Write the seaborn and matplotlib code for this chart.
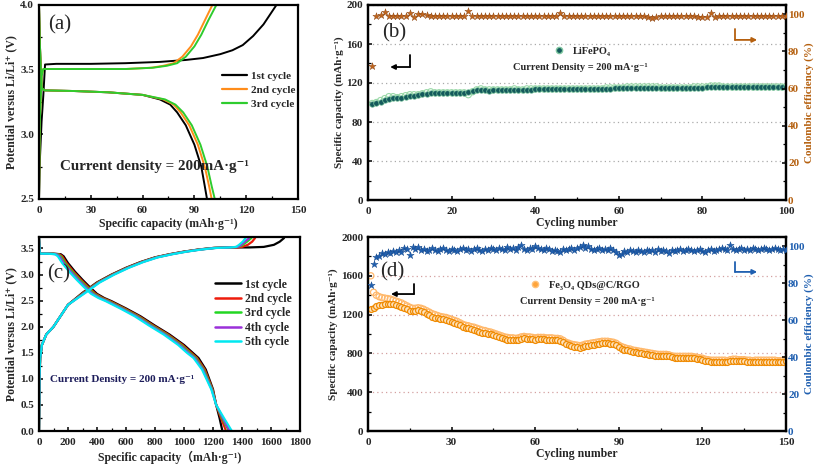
import numpy as np
import pandas as pd
import seaborn as sns
import matplotlib.pyplot as plt
from matplotlib.lines import Line2D
from matplotlib.ticker import MultipleLocator

# ---------------- panel (a): LiFePO4 charge/discharge ----------------
a_labels = ['1st cycle', '2nd cycle', '3rd cycle']
a_colors = ['#000000', '#ff8c1a', '#2ecc2e']
a_chg_cap = [
    [0, 0.5, 1.5, 2.5, 3.5, 10, 30, 50, 70, 85, 95, 105, 112, 118, 124, 130, 134, 137.5],
    [0, 0.5, 1.5, 2.5, 10, 30, 50, 65, 72, 78, 83, 88, 92, 96, 100.4],
    [0, 0.5, 1.5, 2.5, 10, 30, 50, 66, 74, 80, 85, 90, 94, 98, 102.7],
]
a_chg_v = [
    [2.5, 2.8, 3.1, 3.3, 3.54, 3.545, 3.545, 3.55, 3.56, 3.575, 3.59, 3.62, 3.65, 3.69, 3.76, 3.85, 3.93, 4.0],
    [2.5, 3.1, 3.45, 3.505, 3.505, 3.505, 3.505, 3.515, 3.53, 3.55, 3.6, 3.68, 3.77, 3.88, 4.0],
    [2.5, 3.1, 3.45, 3.505, 3.505, 3.505, 3.505, 3.515, 3.53, 3.55, 3.6, 3.68, 3.77, 3.88, 4.0],
]
a_dis_cap = [
    [0, 0.5, 1.5, 3, 20, 40, 60, 70, 76, 80, 85, 90, 94, 96, 97.3],
    [0, 0.5, 1.5, 3, 20, 40, 60, 72, 78, 82, 87, 92, 96, 98.5, 100],
    [0, 0.5, 1.5, 3, 20, 40, 60, 73, 79, 83.5, 88.5, 93.5, 97.5, 100, 101.8],
]
a_dis_v = [4.0, 3.7, 3.36, 3.34, 3.335, 3.325, 3.305, 3.27, 3.23, 3.17, 3.07, 2.92, 2.75, 2.6, 2.5]

# ---------------- panel (b): LiFePO4 cycling ----------------
b_cycles = list(range(1, 101))
b_cap_chg = [98, 99, 101, 103, 104, 105, 105, 105, 106, 107,
             107, 108, 109, 109, 110, 110, 110, 110, 110, 110,
             110, 110, 110, 111, 112, 113, 113, 113, 112, 113,
             113, 113, 113, 113, 113, 113, 113, 113, 113, 114,
             114, 114, 114, 114, 114, 114, 114, 114, 114, 114,
             114, 114, 114, 114, 114, 114, 114, 114, 115, 115,
             115, 115, 115, 115, 115, 115, 115, 115, 115, 115,
             115, 115, 115, 115, 115, 115, 115, 115, 115, 115,
             116, 116, 116, 116, 116, 116, 116, 116, 116, 116,
             116, 116, 116, 116, 116, 116, 116, 116, 116, 116]
b_cap_dis = [99, 100, 102, 104, 106, 106, 105, 106, 107, 108,
             108, 108, 109, 110, 111, 110, 110, 110, 110, 110,
             110, 110, 110, 108, 111, 113, 114, 113, 113, 113,
             113, 113, 113, 113, 114, 113, 113, 114, 114, 114,
             114, 114, 114, 114, 114, 114, 114, 114, 114, 114,
             114, 114, 114, 114, 114, 114, 115, 115, 115, 115,
             115, 116, 116, 116, 116, 116, 116, 116, 116, 115,
             115, 115, 115, 115, 115, 115, 115, 116, 116, 116,
             116, 117, 117, 117, 116, 116, 116, 116, 116, 116,
             116, 116, 116, 116, 116, 116, 116, 116, 116, 116]
b_ce = [72, 99, 99.5, 101, 99, 99, 99, 99, 99, 100.5,
        98.5, 100, 100, 99.5, 99.3, 99.3, 99.3, 99.3, 99.3, 99.3,
        99.3, 99.3, 99.3, 102, 99.3, 99.3, 99.3, 99.3, 99.3, 99.3,
        99.3, 99.3, 99.3, 99.3, 99.3, 99.3, 99.3, 99.3, 99.3, 99.3,
        99.3, 99.3, 99.3, 99.3, 99.3, 100.5, 99.3, 99.3, 99.3, 99.3,
        99.3, 99.3, 99.3, 99.3, 99.3, 99.3, 99.3, 99.3, 99.3, 99.3,
        99.3, 99.3, 99.3, 99.3, 99.3, 99.3, 98.5, 98, 98.5, 99.3,
        99.3, 99.3, 99.3, 99.3, 99.3, 99.3, 99.3, 99.3, 98.8, 98.8,
        98.8, 100.5, 98.8, 99.3, 99.3, 99.3, 99.3, 99.3, 99.3, 99.3,
        99.3, 99.3, 99.3, 99.3, 99.3, 99.3, 99.3, 99.3, 99.3, 99.3]

# ---------------- panel (c): Fe3O4 QDs@C/RGO charge/discharge ----------------
c_labels = ['1st cycle', '2nd cycle', '3rd cycle', '4th cycle', '5th cycle']
c_colors = ['#000000', '#ee1c0c', '#22d622', '#9b30d9', '#00e8f0']
c_dis_v = [3.7, 3.4, 3.4, 3.4, 3.39, 3.35, 3.22, 3.05, 2.9, 2.76, 2.63, 2.55, 2.49,
           2.35, 2.2, 2.02, 1.85, 1.65, 1.5, 1.4, 1.18, 0.8, 0.5, 0.25, 0.0]
c_dis_cap = [
    [0, 5, 20, 100, 150, 170, 200, 250, 300, 350, 400, 450, 500, 600, 700, 800, 900, 1000, 1060, 1100, 1150, 1200, 1222, 1245, 1265],
    [0, 5, 20, 90, 140, 160, 190, 240, 290, 340, 390, 440, 490, 590, 690, 790, 890, 990, 1050, 1090, 1143, 1197, 1222, 1255, 1290],
    [0, 5, 20, 80, 130, 150, 180, 230, 280, 330, 380, 430, 480, 580, 680, 780, 880, 980, 1040, 1082, 1136, 1194, 1222, 1262, 1310],
    [0, 5, 20, 70, 120, 140, 170, 220, 270, 320, 370, 420, 470, 570, 670, 770, 870, 970, 1030, 1074, 1130, 1191, 1222, 1268, 1315],
    [0, 5, 20, 60, 110, 130, 160, 210, 260, 310, 360, 410, 460, 560, 660, 760, 860, 960, 1020, 1066, 1124, 1188, 1222, 1275, 1330],
]
c_chg_cap = [
    [0, 3, 8, 20, 50, 100, 200, 300, 400, 500, 600, 700, 800, 900, 1000, 1100, 1200, 1300, 1370, 1450, 1550, 1620, 1660, 1690],
    [0, 3, 8, 20, 50, 100, 200, 305, 405, 505, 605, 705, 805, 905, 1005, 1105, 1205, 1305, 1370, 1400, 1440, 1470, 1490],
    [0, 3, 8, 20, 50, 100, 200, 310, 410, 510, 610, 710, 810, 910, 1010, 1110, 1210, 1310, 1375, 1400, 1430, 1465],
    [0, 3, 8, 20, 50, 100, 200, 315, 415, 515, 615, 715, 815, 915, 1015, 1115, 1215, 1315, 1370, 1390, 1420, 1450],
    [0, 3, 8, 20, 50, 100, 200, 320, 420, 520, 620, 720, 820, 920, 1020, 1120, 1220, 1320, 1360, 1380, 1405, 1425],
]
c_chg_v = [
    [0, 1.0, 1.4, 1.65, 1.85, 2.0, 2.42, 2.65, 2.85, 3.0, 3.13, 3.24, 3.33, 3.39, 3.44, 3.48, 3.51, 3.52, 3.52, 3.52, 3.53, 3.57, 3.63, 3.7],
    [0, 1.0, 1.4, 1.65, 1.85, 2.0, 2.42, 2.65, 2.85, 3.0, 3.13, 3.24, 3.33, 3.39, 3.44, 3.48, 3.51, 3.52, 3.52, 3.53, 3.57, 3.63, 3.7],
    [0, 1.0, 1.4, 1.65, 1.85, 2.0, 2.42, 2.65, 2.85, 3.0, 3.13, 3.24, 3.33, 3.39, 3.44, 3.48, 3.51, 3.52, 3.53, 3.56, 3.62, 3.7],
    [0, 1.0, 1.4, 1.65, 1.85, 2.0, 2.42, 2.65, 2.85, 3.0, 3.13, 3.24, 3.33, 3.39, 3.44, 3.48, 3.51, 3.52, 3.53, 3.56, 3.63, 3.7],
    [0, 1.0, 1.4, 1.65, 1.85, 2.0, 2.42, 2.65, 2.85, 3.0, 3.13, 3.24, 3.33, 3.39, 3.44, 3.48, 3.51, 3.52, 3.53, 3.57, 3.63, 3.7],
]

# ---------------- panel (d): Fe3O4 QDs@C/RGO cycling ----------------
d_cycles = list(range(1, 151))
d_cap_chg = [1260, 1270, 1285, 1295, 1300, 1310, 1310, 1310, 1305, 1300,
             1290, 1280, 1270, 1260, 1240, 1235, 1240, 1245, 1240, 1225,
             1210, 1195, 1180, 1170, 1160, 1155, 1150, 1145, 1135, 1125,
             1115, 1105, 1090, 1075, 1065, 1060, 1050, 1045, 1035, 1025,
             1015, 1010, 1000, 995, 985, 975, 965, 955, 945, 940,
             940, 940, 935, 940, 950, 955, 950, 950, 945, 940,
             945, 945, 945, 940, 940, 940, 935, 935, 930, 915,
             895, 885, 875, 870, 865, 860, 865, 875, 880, 885,
             890, 895, 900, 905, 905, 905, 900, 895, 885, 865,
             850, 840, 830, 825, 815, 810, 805, 800, 795, 790,
             785, 780, 775, 770, 775, 775, 770, 770, 760, 755,
             755, 755, 755, 755, 755, 755, 750, 745, 740, 735,
             725, 720, 715, 715, 715, 715, 715, 715, 710, 720,
             725, 725, 720, 720, 720, 715, 715, 710, 715, 715,
             715, 715, 715, 715, 715, 715, 710, 710, 715, 720]
d_cap_dis = [1600, 1430, 1400, 1385, 1375, 1370, 1365, 1360, 1350, 1340,
             1330, 1320, 1305, 1290, 1275, 1265, 1265, 1270, 1265, 1255,
             1240, 1225, 1210, 1200, 1190, 1180, 1175, 1170, 1160, 1150,
             1140, 1130, 1115, 1100, 1090, 1085, 1075, 1070, 1060, 1050,
             1040, 1035, 1025, 1020, 1010, 1000, 990, 980, 970, 965,
             960, 960, 955, 960, 970, 975, 970, 970, 965, 960,
             965, 965, 965, 960, 960, 960, 955, 955, 950, 935,
             915, 905, 895, 890, 885, 880, 885, 895, 900, 905,
             910, 915, 920, 925, 925, 925, 920, 915, 905, 885,
             870, 860, 850, 845, 835, 830, 825, 820, 815, 810,
             805, 800, 795, 790, 790, 790, 790, 785, 775, 770,
             770, 770, 770, 770, 770, 770, 765, 760, 755, 750,
             740, 735, 730, 730, 730, 730, 730, 730, 725, 735,
             740, 740, 735, 735, 735, 730, 730, 725, 730, 730,
             730, 730, 730, 730, 730, 730, 725, 725, 730, 735]
d_ce = [79, 90.5, 94, 94.5, 96.5, 96, 97, 96.5, 97.5, 97,
        98, 97, 99, 98.5, 95.5, 99.5, 98.5, 99.5, 98, 98.5,
        97.5, 98, 99, 98, 97.5, 98.5, 99, 98, 97.5, 98.5,
        98, 97.5, 98.5, 99, 98, 98.5, 97.5, 98.5, 99, 98,
        97.5, 98.5, 98, 99, 98.5, 98, 99, 98.5, 98, 99.5,
        98.5, 99, 98, 99.5, 100.5, 98.5, 98, 99, 98.5, 100,
        99, 98.5, 98, 99, 98.5, 97.5, 98, 97.5, 97, 98.5,
        98, 98.5, 99, 98, 99, 99.5, 100.5, 99, 100, 98.5,
        98, 98.5, 99, 98, 98.5, 98, 99, 98, 97, 95.5,
        96, 97.5, 97, 98, 97.5, 97, 98, 97.5, 97, 98,
        97.5, 98, 97, 98.5, 97.5, 98, 97.5, 96.5, 98, 97.5,
        98, 98.5, 97.5, 98, 98.5, 98, 97.5, 98, 98.5, 97.5,
        97, 98, 98.5, 97.5, 98, 98.5, 99, 98.5, 98, 100.5,
        98.5, 98, 98.5, 99, 98, 98.5, 98, 99, 98.5, 98,
        98.5, 99, 98.5, 98, 98.5, 99, 98.5, 98, 98.5, 98]

BROWN = '#b5600f'
BLUE = '#1f5fb0'

sns.set_style('ticks')
plt.rcParams['font.family'] = ['Liberation Serif', 'DejaVu Serif', 'Noto Sans CJK SC']
plt.rcParams['font.weight'] = 'bold'
plt.rcParams['axes.labelweight'] = 'bold'
plt.rcParams['axes.linewidth'] = 1.6
plt.rcParams['xtick.direction'] = 'in'
plt.rcParams['ytick.direction'] = 'in'


def box(l, r, t, b):
    return [l / 817, 1 - b / 465, (r - l) / 817, (b - t) / 465]


def style(ax):
    for s in ax.spines.values():
        s.set_visible(True)
        s.set_color('black')
        s.set_linewidth(1.6)
    ax.tick_params(which='major', labelsize=8, length=3, width=1.1, color='black')
    ax.tick_params(which='minor', length=2, width=0.9, color='black')
    ax.tick_params(axis='x', which='major', pad=5)


def corner_arrow(ax, xv, ytop, ybot, xend, color):
    ax.plot([xv, xv], [ytop, ybot], transform=ax.transAxes, color=color, lw=1.3)
    ax.annotate('', xy=(xend, ybot), xytext=(xv, ybot), xycoords='axes fraction',
                arrowprops=dict(arrowstyle='-|>', color=color, lw=1.3, mutation_scale=7,
                                shrinkA=0, shrinkB=0))


fig = plt.figure(figsize=(8.17, 4.65), dpi=100)

# ---- (a)
ax = fig.add_axes(box(39, 298, 5, 199))
for i in range(3):
    sns.lineplot(x=a_chg_cap[i], y=a_chg_v[i], ax=ax, color=a_colors[i], lw=1.4, sort=False, estimator=None)
    sns.lineplot(x=a_dis_cap[i], y=a_dis_v, ax=ax, color=a_colors[i], lw=1.4, sort=False, estimator=None)
ax.set_xlim(0, 150)
ax.set_ylim(2.5, 4.0)
ax.xaxis.set_major_locator(MultipleLocator(30))
ax.xaxis.set_minor_locator(MultipleLocator(15))
ax.yaxis.set_major_locator(MultipleLocator(0.5))
ax.yaxis.set_minor_locator(MultipleLocator(0.25))
style(ax)
ax.set_xlabel('Specific capacity (mAh·g⁻¹)', fontsize=8.5, labelpad=2)
ax.set_ylabel('Potential versus Li/Li⁺ (V)', fontsize=8.5, labelpad=2)
ax.legend(handles=[Line2D([], [], color=c, lw=1.6) for c in a_colors], labels=a_labels,
          loc='upper left', bbox_to_anchor=(0.69, 0.68), frameon=False, fontsize=8,
          handlelength=2.2, handletextpad=0.4, labelspacing=0.35, borderaxespad=0)
ax.text(0.08, 0.17, 'Current density = 200mA·g⁻¹', transform=ax.transAxes, fontsize=10.8,
        ha='left', va='center')
ax.text(0.035, 0.9, '(a)', transform=ax.transAxes, fontsize=15, fontweight='normal',
        ha='left', va='center')

# ---- (b)
ax = fig.add_axes(box(368, 786, 5, 200))
ax.grid(axis='y', ls=(0, (1, 2.5)), color='#aaaaaa', lw=0.9)
sns.scatterplot(x=b_cycles, y=b_cap_dis, ax=ax, marker='o', s=20, facecolor='none',
                edgecolor='#9ad9a8', linewidth=0.8, zorder=3)
sns.scatterplot(x=b_cycles, y=b_cap_chg, ax=ax, marker='o', s=16, color='#145a5c',
                edgecolor='#7fc7a0', linewidth=0.5, zorder=4)
ax.set_xlim(0, 100)
ax.set_ylim(0, 200)
ax.xaxis.set_major_locator(MultipleLocator(20))
ax.xaxis.set_minor_locator(MultipleLocator(10))
ax.yaxis.set_major_locator(MultipleLocator(40))
ax.yaxis.set_minor_locator(MultipleLocator(20))
style(ax)
ax.set_xlabel('Cycling number', fontsize=8.5, labelpad=1)
ax.set_ylabel('Specific capacity (mAh·g⁻¹)', fontsize=8, labelpad=2)
ax2 = ax.twinx()
sns.scatterplot(x=b_cycles, y=b_ce, ax=ax2, marker='*', s=30, color='#c0651c',
                edgecolor='#8b4513', linewidth=0.3, zorder=5)
ax2.set_ylim(0, 105)
ax2.yaxis.set_major_locator(MultipleLocator(20))
ax2.yaxis.set_minor_locator(MultipleLocator(10))
style(ax2)
ax2.tick_params(axis='y', which='both', labelcolor=BROWN, direction='in', pad=1.5)
ax2.set_ylabel('Coulombic efficiency (%)', fontsize=8, color=BROWN, labelpad=0)
ax2.legend(handles=[Line2D([], [], marker='o', ls='', color='#145a5c', markeredgecolor='#7fc7a0',
                           markersize=4.5)], labels=['LiFePO₄'],
           loc='center left', bbox_to_anchor=(0.435, 0.764), frameon=False, fontsize=7.5,
           handlelength=1.0, handletextpad=0.8, borderaxespad=0)
ax2.text(0.507, 0.677, 'Current Density = 200 mA·g⁻¹', transform=ax2.transAxes, fontsize=7.5,
         ha='center', va='center')
ax2.text(0.033, 0.856, '(b)', transform=ax2.transAxes, fontsize=15, fontweight='normal',
         ha='left', va='center')
corner_arrow(ax2, 0.1005, 0.744, 0.682, 0.053, 'black')
corner_arrow(ax2, 0.878, 0.877, 0.821, 0.931, BROWN)

# ---- (c)
ax = fig.add_axes(box(39, 300, 237, 431))
for i in range(5):
    sns.lineplot(x=c_dis_cap[i], y=c_dis_v, ax=ax, color=c_colors[i], lw=1.6, sort=False, estimator=None)
    sns.lineplot(x=c_chg_cap[i], y=c_chg_v[i], ax=ax, color=c_colors[i], lw=1.6, sort=False, estimator=None)
ax.set_xlim(0, 1800)
ax.set_ylim(0, 3.72)
ax.xaxis.set_major_locator(MultipleLocator(200))
ax.xaxis.set_minor_locator(MultipleLocator(100))
ax.yaxis.set_major_locator(MultipleLocator(0.5))
ax.yaxis.set_minor_locator(MultipleLocator(0.25))
ax.yaxis.set_major_formatter('{x:.1f}')
style(ax)
ax.set_xlabel('Specific capacity（mAh·g⁻¹)', fontsize=8.5, labelpad=3)
ax.set_ylabel('Potential versus Li/Li⁺ (V)', fontsize=8.5, labelpad=2)
ax.legend(handles=[Line2D([], [], color=c, lw=1.8) for c in c_colors], labels=c_labels,
          loc='upper left', bbox_to_anchor=(0.655, 0.81), frameon=False, fontsize=8.5,
          handlelength=2.2, handletextpad=0.4, labelspacing=0.2, borderaxespad=0)
ax.text(0.042, 0.263, 'Current Density = 200 mA·g⁻¹', transform=ax.transAxes, fontsize=8,
        color='#1c1c5a', ha='left', va='center')
ax.text(0.03, 0.81, '(c)', transform=ax.transAxes, fontsize=15, fontweight='normal',
        ha='left', va='center')

# ---- (d)
ax = fig.add_axes(box(368, 786, 237, 431))
ax.grid(axis='y', ls=(0, (1, 2.5)), color='#d4a0a0', lw=0.9)
sns.scatterplot(x=d_cycles, y=d_cap_dis, ax=ax, marker='o', s=20, facecolor='none',
                edgecolor='#ffb86a', linewidth=0.9, zorder=3)
sns.scatterplot(x=d_cycles, y=d_cap_chg, ax=ax, marker='o', s=18, color='#fde3bf',
                edgecolor='#f08a00', linewidth=0.9, zorder=4)
ax.set_xlim(0, 150)
ax.set_ylim(0, 2000)
ax.xaxis.set_major_locator(MultipleLocator(30))
ax.xaxis.set_minor_locator(MultipleLocator(15))
ax.yaxis.set_major_locator(MultipleLocator(400))
ax.yaxis.set_minor_locator(MultipleLocator(200))
style(ax)
ax.set_xlabel('Cycling number', fontsize=8.5, labelpad=1)
ax.set_ylabel('Specific capacity (mAh·g⁻¹)', fontsize=8, labelpad=2)
ax2 = ax.twinx()
sns.scatterplot(x=d_cycles, y=d_ce, ax=ax2, marker='*', s=30, color=BLUE,
                edgecolor='#174a8c', linewidth=0.3, zorder=5)
ax2.set_ylim(0, 105)
ax2.yaxis.set_major_locator(MultipleLocator(20))
ax2.yaxis.set_minor_locator(MultipleLocator(10))
style(ax2)
ax2.tick_params(axis='y', which='both', labelcolor=BLUE, direction='in', pad=1.5)
ax2.set_ylabel('Coulombic efficiency (%)', fontsize=8, color=BLUE, labelpad=0)
ax2.legend(handles=[Line2D([], [], marker='o', ls='', color='#ffa43a', markeredgecolor='#ffc27a',
                           markersize=4.5)], labels=['Fe₃O₄ QDs@C/RGO'],
           loc='center left', bbox_to_anchor=(0.378, 0.753), frameon=False, fontsize=7.5,
           handlelength=1.0, handletextpad=0.8, borderaxespad=0)
ax2.text(0.524, 0.67, 'Current Density = 200 mA·g⁻¹', transform=ax2.transAxes, fontsize=7.5,
         ha='center', va='center')
ax2.text(0.029, 0.82, '(d)', transform=ax2.transAxes, fontsize=15, fontweight='normal',
         ha='left', va='center')
corner_arrow(ax2, 0.110, 0.758, 0.706, 0.055, 'black')
corner_arrow(ax2, 0.878, 0.871, 0.82, 0.931, BLUE)

fig.savefig('out.png', dpi=100)
